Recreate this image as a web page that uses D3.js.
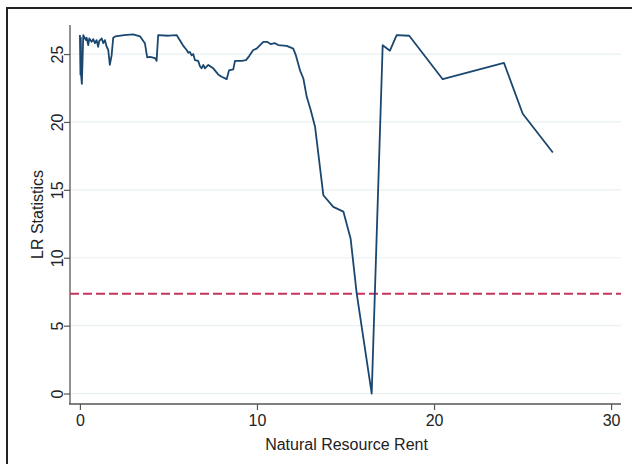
<!DOCTYPE html>
<html>
<head>
<meta charset="utf-8">
<script src="https://cdn.jsdelivr.net/npm/d3@7"></script>
<style>
  body { margin: 0; background: #fff; }
  text { font-family: "Liberation Sans", Arial, sans-serif; fill: #222; }
</style>
</head>
<body>
<svg id="root"></svg>
<script>
// LR statistics against the threshold variable (natural resource rent)

const rentValues = [
  0.0, 0.03, 0.05, 0.07, 0.11, 0.19, 0.23, 0.34, 0.38, 0.47, 0.53, 0.66, 0.75, 0.85, 0.94,
  1.03, 1.09, 1.23, 1.32, 1.41, 1.51, 1.6, 1.69, 1.79, 1.88, 2.0, 2.5, 3.0, 3.4, 3.67, 3.8,
  3.95, 4.24, 4.33, 4.42, 5.0, 5.46, 5.75, 5.84, 6.03, 6.12, 6.21, 6.31, 6.4, 6.5, 6.68,
  6.78, 6.87, 6.97, 7.06, 7.25, 7.53, 7.81, 8.0, 8.29, 8.42, 8.66, 8.76, 9.14, 9.38, 9.56,
  9.79, 9.98, 10.36, 10.56, 10.77, 11.02, 11.2, 11.68, 12.05, 12.2, 12.43, 12.62, 12.81,
  13.03, 13.28, 13.75, 14.31, 14.88, 15.29, 15.63, 16.48, 17.1, 17.51, 17.89, 18.6, 20.49,
  23.95, 25.01, 26.71
];
const lrValues = [
  26.4, 23.5, 26.2, 23.4, 22.8, 26.4, 26.27, 26.03, 26.2, 25.66, 26.15, 25.9, 26.1, 25.8, 26.03,
  25.54, 25.96, 26.15, 25.8, 26.03, 25.54, 25.3, 24.2, 24.9, 26.2, 26.3, 26.4, 26.45, 26.3, 25.8, 24.75,
  24.8, 24.7, 24.5, 26.4, 26.35, 26.4, 25.8, 25.6, 25.3, 25.1, 25.15, 24.9, 25.0, 24.55, 24.5,
  24.1, 23.95, 24.2, 23.95, 24.2, 23.95, 23.5, 23.33, 23.15, 23.8, 23.87, 24.5, 24.5, 24.55, 24.85,
  25.3, 25.4, 25.9, 25.9, 25.74, 25.8, 25.66, 25.6, 25.4, 24.9, 23.8, 23.2, 21.85,
  20.9, 19.65, 14.6, 13.75, 13.4, 11.4, 7.4, 0.0, 25.65, 25.25, 26.4, 26.35, 23.15,
  24.35, 20.6, 17.75
];
const criticalValue = 7.35; // 95% critical value
const xTicks = [0, 10, 20, 30];
const yTicks = [0, 5, 10, 15, 20, 25];

const margin = { top: 25, right: 11, bottom: 60, left: 70 },
  width = 632 - margin.left - margin.right,
  height = 464 - margin.top - margin.bottom;

const root = d3.select("#root").attr("width", 632).attr("height", 464);

// outer graph frame (cut off at right and bottom)
root
  .append("rect")
  .attr("x", 7)
  .attr("y", 8)
  .attr("width", 700)
  .attr("height", 500)
  .attr("fill", "none")
  .attr("stroke", "#222")
  .attr("stroke-width", 2);

const svg = root
  .append("g")
  .attr("transform", "translate(" + margin.left + "," + margin.top + ")");

const xScale = d3.scaleLinear([-0.56, 30.56], [0, width]);
const yScale = d3.scaleLinear([-0.77, 27.14], [height, 0]);

// Grid lines
svg
  .selectAll(".grid")
  .data(yTicks)
  .join("line")
  .attr("class", "grid")
  .attr("x1", 0)
  .attr("x2", width)
  .attr("y1", (d) => yScale(d))
  .attr("y2", (d) => yScale(d))
  .attr("stroke", "#e8f0f2")
  .attr("stroke-width", 1.2);

// Axes
const xAxis = d3.axisBottom(xScale).tickValues(xTicks).tickSize(6).tickPadding(5).tickSizeOuter(0);
const yAxis = d3.axisLeft(yScale).tickValues(yTicks).tickSize(6).tickPadding(6).tickSizeOuter(0);

const gx = svg.append("g").attr("transform", `translate(0,${height})`).call(xAxis);
const gy = svg.append("g").call(yAxis);

[gx, gy].forEach((g) => {
  g.select(".domain").attr("stroke", "#555").attr("stroke-width", 1.3);
  g.selectAll(".tick line").attr("stroke", "#555").attr("stroke-width", 1.2);
  g.selectAll(".tick text").attr("font-size", 16).attr("fill", "#222")
    .attr("font-family", '"Liberation Sans", Arial, sans-serif');
});
gx.select(".domain").attr("d", `M-1,0H${width}`);
gy.select(".domain").attr("d", `M0,0V${height}`);

// rotate y tick labels
gy.selectAll(".tick text")
  .attr("transform", "rotate(-90)")
  .attr("x", 0)
  .attr("y", -7)
  .attr("dy", 0)
  .attr("text-anchor", "middle");

// Axes labels
svg
  .append("text")
  .attr("text-anchor", "middle")
  .attr("x", width / 2 + 1)
  .attr("y", height + 46)
  .attr("font-size", 16)
  .text("Natural Resource Rent");

svg
  .append("text")
  .attr("text-anchor", "middle")
  .attr("transform", "rotate(-90)")
  .attr("x", -height / 2)
  .attr("y", -27)
  .attr("font-size", 16)
  .text("LR Statistics");

// Critical value line
svg
  .append("line")
  .attr("x1", 0)
  .attr("x2", width)
  .attr("y1", yScale(criticalValue))
  .attr("y2", yScale(criticalValue))
  .attr("stroke", "#c4365e")
  .attr("stroke-width", 2)
  .attr("stroke-dasharray", "9,4");

// LR line
const data = rentValues.map((x, i) => [x, lrValues[i]]);
const line = d3
  .line()
  .x((d) => xScale(d[0]))
  .y((d) => yScale(d[1]));
svg
  .append("path")
  .datum(data)
  .attr("fill", "none")
  .attr("stroke", "#1a476f")
  .attr("stroke-width", 1.8)
  .attr("stroke-linejoin", "round")
  .attr("d", line);
</script>
</body>
</html>
